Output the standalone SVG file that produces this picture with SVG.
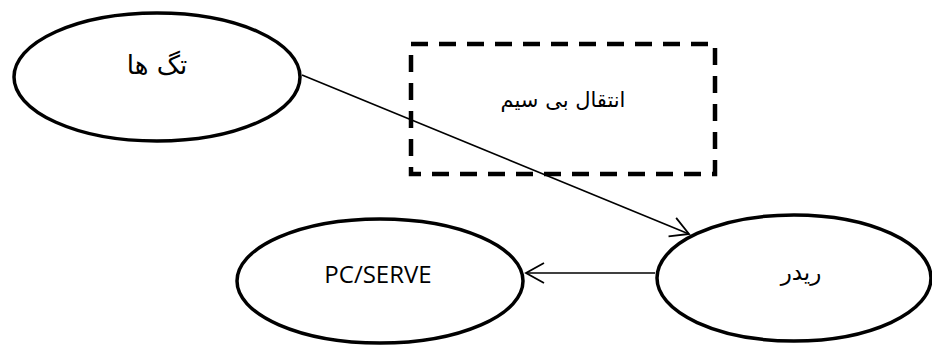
<svg xmlns="http://www.w3.org/2000/svg" width="932" height="345" viewBox="0 0 932 345">
<style>
.node{fill:#fff;stroke:#000;stroke-width:3.5}
.ar{font-family:"DejaVu Sans","Noto Sans",sans-serif;font-size:23px;fill:#000;text-anchor:middle}
.en{font-family:"Open Sans","Liberation Sans",sans-serif;font-size:24px;fill:#000;text-anchor:middle}
.conn{stroke:#000;stroke-width:1.6;fill:none}
</style>
<defs>
<marker id="arr" markerUnits="userSpaceOnUse" markerWidth="26" markerHeight="26" viewBox="-22 -13 26 26" refX="0" refY="0" orient="auto">
<path d="M-18,-10 L0,0 L-18,10" fill="none" stroke="#000" stroke-width="1.8"/>
</marker>
</defs>
<rect width="932" height="345" fill="#fff"/>
<g id="wireless">
<rect x="411" y="44" width="304" height="130" fill="none" stroke="#000" stroke-width="4.5" stroke-dasharray="17,11"/>
<text class="ar" x="563" y="107" direction="rtl" style="font-size:21px">انتقال بی سیم</text>
</g>
<g id="connectors">
<line class="conn" x1="302" y1="75" x2="689" y2="234" marker-end="url(#arr)"/>
<line class="conn" x1="655" y1="273" x2="526" y2="273" marker-end="url(#arr)"/>
</g>
<g id="tags">
<ellipse class="node" cx="157" cy="77" rx="143" ry="64"/>
<text class="ar" x="157" y="74" direction="rtl" style="font-size:26px">تگ ها</text>
</g>
<g id="server">
<ellipse class="node" cx="380" cy="281" rx="143" ry="62"/>
<text class="en" x="378" y="283">PC/SERVE</text>
</g>
<g id="reader">
<ellipse class="node" cx="794" cy="278" rx="137" ry="63"/>
<text class="ar" x="801" y="280" direction="rtl">ریدر</text>
</g>
</svg>
